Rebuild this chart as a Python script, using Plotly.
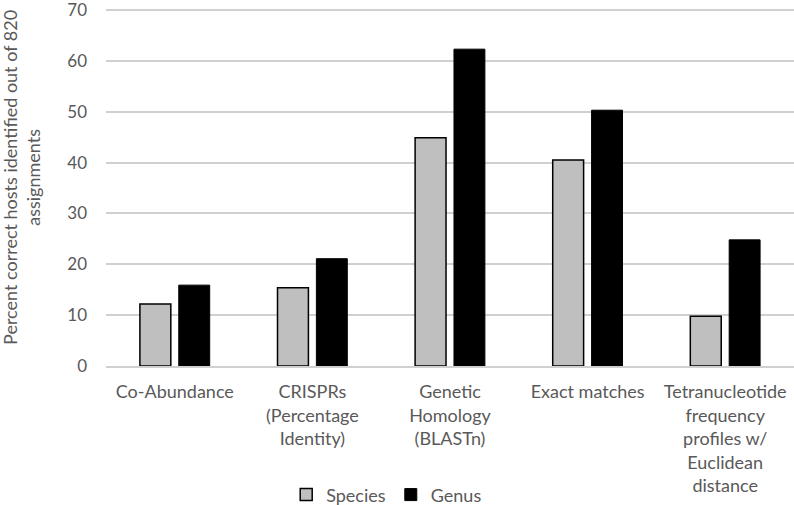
import plotly.graph_objects as go

categories = ["Co-Abundance", "CRISPRs<br>(Percentage<br>Identity)", "Genetic<br>Homology<br>(BLASTn)",
              "Exact matches", "Tetranucleotide<br>frequency<br>profiles w/<br>Euclidean<br>distance"]
species = [12.2, 15.4, 44.9, 40.5, 9.8]
genus = [15.9, 21.1, 62.3, 50.3, 24.8]
y_ticks = [0, 10, 20, 30, 40, 50, 60, 70]

FONT = "Lato"
GRAY = "#595959"
GRID = "#d0d0d0"

fig = go.Figure()
fig.add_trace(go.Bar(x=categories, y=species, name="Species",
                     marker=dict(color="#bfbfbf", line=dict(color="#000000", width=1.5))))
fig.add_trace(go.Bar(x=categories, y=genus, name="Genus",
                     marker=dict(color="#000000", line=dict(color="#000000", width=1))))

fig.update_layout(
    width=794, height=505,
    margin=dict(l=106, r=0, t=7, b=139, autoexpand=False),
    paper_bgcolor="white", plot_bgcolor="white",
    barmode="group", bargap=0.435, bargroupgap=0.205,
    font=dict(family=FONT, size=16, color=GRAY),
    showlegend=True,
    legend=dict(orientation="h", x=0.408, xanchor="center", y=-0.359, yanchor="middle",
                font=dict(family=FONT, size=18, color=GRAY),
                traceorder="normal"),
    xaxis=dict(showgrid=False, showline=True, linecolor=GRID, linewidth=1.5,
               ticks="", automargin=False, ticklabelstandoff=9,
               tickfont=dict(family=FONT, size=18, color=GRAY)),
    yaxis=dict(range=[0, 70.59], tickvals=y_ticks, showgrid=True, gridcolor=GRID, gridwidth=1.5,
               zeroline=False, showline=False, ticks="", ticklabelstandoff=18, automargin=False,
               ticklabeloverflow="allow",
               tickfont=dict(family=FONT, size=17, color=GRAY)),
    shapes=[dict(type="line", xref="paper", yref="y", x0=0, x1=1, y0=y_ticks[-1], y1=y_ticks[-1],
                 line=dict(color=GRID, width=1.5), layer="below")],
    annotations=[dict(text="Percent correct hosts identified out of 820<br>assignments",
                      textangle=-90, xref="paper", yref="paper", x=-0.123, y=0.525,
                      xanchor="center", yanchor="middle", showarrow=False,
                      font=dict(family=FONT, size=18, color=GRAY))],
)

fig.write_html("out.html", config={"displayModeBar": False},
               post_script="document.body.style.margin='0';")
